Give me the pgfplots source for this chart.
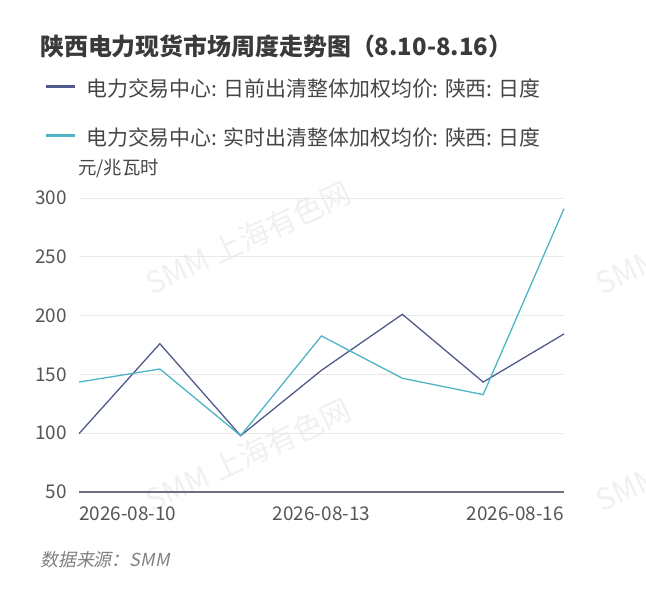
\documentclass[border=0pt]{standalone}
\usepackage{pgfplots}
\pgfplotsset{compat=1.18}
\usepackage{fontspec}
\setmainfont{Noto Sans CJK SC}
\newfontfamily\srcfont[FakeSlant=0.2]{Noto Sans CJK SC}
\definecolor{cdark}{HTML}{505A8C}
\definecolor{ccyan}{HTML}{4CB4C4}
\definecolor{cgrid}{HTML}{E8E8E8}
\definecolor{caxis}{HTML}{6E7079}
\definecolor{ctick}{HTML}{555555}
\definecolor{ctitle}{HTML}{3A3A3A}
\definecolor{clegend}{HTML}{464646}
\definecolor{cwm}{HTML}{F0F0F0}
\begin{document}
\begin{tikzpicture}
\path[use as bounding box] (0,0) rectangle (646bp,-597bp);
% watermarks
\foreach \cx/\cy in {248/238, 248/455, 698/238, 698/455}{
  \node[rotate=25, text=cwm, font=\fontsize{30}{30}\selectfont, inner sep=0pt] at (\cx bp,-\cy bp) {SMM 上海有色网};
}
\begin{axis}[
  at={(79bp,-492bp)}, anchor=south west,
  scale only axis, width=485bp, height=294bp,
  xmin=0, xmax=6, ymin=50, ymax=300,
  ytick={100,150,...,300},
  extra y ticks={50},
  extra y tick style={grid style={color=caxis, line width=1.3bp}},
  xtick=\empty,
  ymajorgrids,
  grid style={color=cgrid, line width=1bp},
  axis line style={draw=none},
  tick style={draw=none},
  tick label style={inner sep=0pt},
  yticklabel style={font=\fontsize{19}{19}\selectfont, text=ctick, xshift=-12bp},
  /pgf/number format/assume math mode=true,
  clip=false,
]
\addplot[color=cdark, line width=1.3bp] coordinates {
  (0,99.6) (1,176.1) (2,97.9) (3,153.5) (4,201.1) (5,143.5) (6,184.4)
};
\addplot[color=ccyan, line width=1.3bp] coordinates {
  (0,143.5) (1,154.6) (2,97.9) (3,182.7) (4,146.7) (5,132.8) (6,290.9)
};
\node[anchor=base west, inner sep=0pt, yshift=-28bp, font=\fontsize{19}{19}\selectfont, text=ctick] at (axis cs:0,50) {2026-08-10};
\node[anchor=base, inner sep=0pt, yshift=-28bp, font=\fontsize{19}{19}\selectfont, text=ctick] at (axis cs:3,50) {2026-08-13};
\node[anchor=base east, inner sep=0pt, yshift=-28bp, font=\fontsize{19}{19}\selectfont, text=ctick] at (axis cs:6,50) {2026-08-16};
\end{axis}
% title
\node[anchor=west, inner sep=0pt, text=ctitle, font=\fontsize{24}{24}\selectfont\bfseries] at (40bp,-46bp) {陕西电力现货市场周度走势图（8.10-8.16）};
% legend
\draw[cdark, line width=3bp] (46bp,-86bp) -- (75bp,-86bp);
\node[anchor=west, inner sep=0pt, text=clegend, font=\fontsize{21}{21}\selectfont] at (86bp,-89bp) {电力交易中心: 日前出清整体加权均价: 陕西: 日度};
\draw[ccyan, line width=3bp] (46bp,-135bp) -- (75bp,-135bp);
\node[anchor=west, inner sep=0pt, text=clegend, font=\fontsize{21}{21}\selectfont] at (86bp,-138bp) {电力交易中心: 实时出清整体加权均价: 陕西: 日度};
% unit
\node[anchor=west, inner sep=0pt, text=clegend, font=\fontsize{18.5}{18.5}\selectfont] at (78bp,-168bp) {元/兆瓦时};
% source
\node[anchor=west, inner sep=0pt, text=black!50, font=\fontsize{18}{18}\selectfont\srcfont] at (40bp,-560bp) {数据来源：SMM};
\end{tikzpicture}
\end{document}
